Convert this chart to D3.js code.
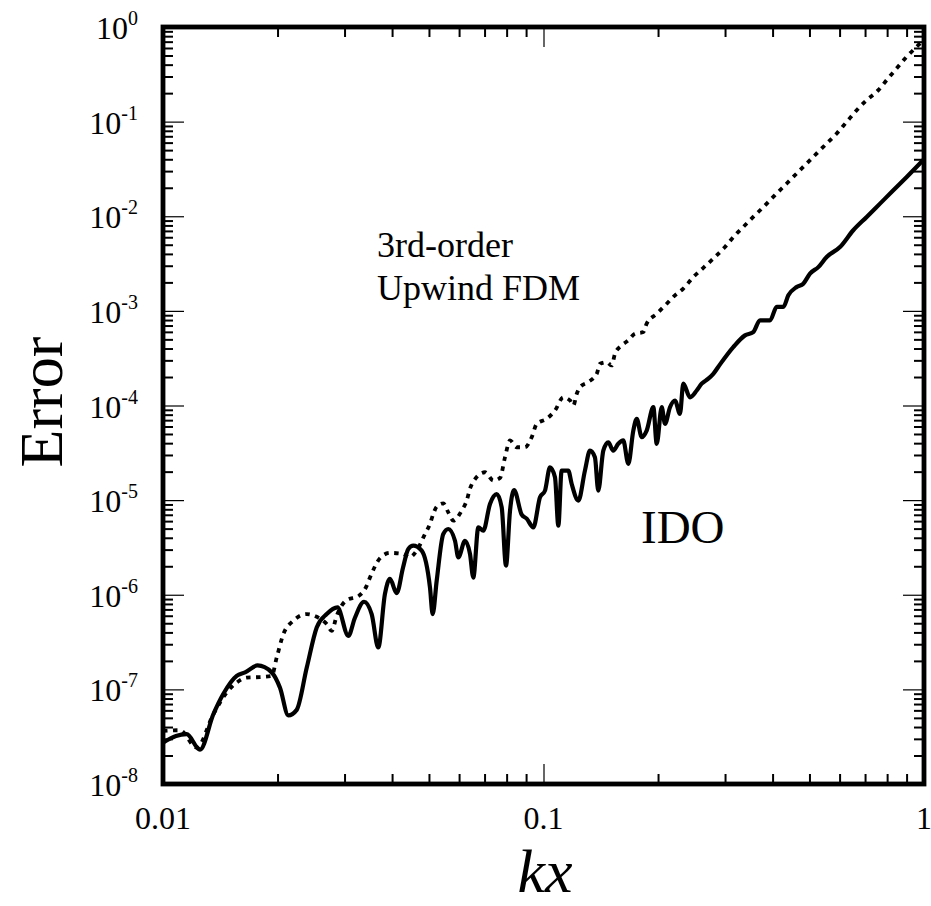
<!DOCTYPE html>
<html>
<head>
<meta charset="utf-8">
<script src="https://cdn.jsdelivr.net/npm/d3@7"></script>
<style>
  body { margin: 0; background: #fff; }
</style>
</head>
<body>
<svg id="chart" width="931" height="906"></svg>
<script>
const svgW = 931, svgH = 906;
const plotL = 163, plotR = 924, plotT = 27, plotB = 784;
const serif = '"Liberation Serif", "DejaVu Serif", "Times New Roman", serif';

// IDO scheme (solid line)
const idoKx = [0.0100, 0.01082, 0.01154, 0.01251, 0.01356, 0.01440, 0.01562, 0.01643, 0.01772, 0.01931,
  0.02030, 0.02135, 0.02246, 0.02387, 0.02535, 0.02693, 0.02874, 0.03069, 0.03195, 0.03375,
  0.03535, 0.03679, 0.03831, 0.03949, 0.04113, 0.04273, 0.04413, 0.04548, 0.04785, 0.05031,
  0.05114, 0.05240, 0.05453, 0.05620, 0.05853, 0.05972, 0.06219, 0.06409, 0.06539, 0.06741,
  0.06947, 0.07234, 0.07534, 0.07765, 0.07969, 0.08166, 0.08366, 0.08764, 0.09034, 0.09402,
  0.09790, 0.1009, 0.1040, 0.1072, 0.1094, 0.1116, 0.1162, 0.1186, 0.1235, 0.1285,
  0.1325, 0.1365, 0.1393, 0.1436, 0.1480, 0.1525, 0.1572, 0.1620, 0.1671, 0.1722,
  0.1758, 0.1812, 0.1867, 0.1944, 0.1984, 0.2045, 0.2086, 0.2150, 0.2216, 0.2284,
  0.2330, 0.2427, 0.2527, 0.2604, 0.2711, 0.2794, 0.2910, 0.3153, 0.3385, 0.3558,
  0.3707, 0.3938, 0.4101, 0.4268, 0.4400, 0.4628, 0.4817, 0.5016, 0.5275, 0.5549,
  0.6015, 0.6518, 0.7070, 0.7663, 0.8306, 0.9007, 1.0];
const idoErr = [2.74e-8, 3.22e-8, 3.36e-8, 2.30e-8, 5.46e-8, 8.95e-8, 1.39e-7, 1.51e-7, 1.79e-7, 1.51e-7,
  1.04e-7, 5.31e-8, 6.07e-8, 1.70e-7, 4.51e-7, 6.25e-7, 7.35e-7, 3.68e-7, 5.71e-7, 8.43e-7,
  6.25e-7, 2.77e-7, 1.02e-6, 1.47e-6, 1.04e-6, 1.93e-6, 3.05e-6, 3.30e-6, 2.92e-6, 1.19e-6,
  6.25e-7, 1.41e-6, 4.39e-6, 4.95e-6, 3.72e-6, 2.48e-6, 3.72e-6, 2.70e-6, 1.52e-6, 5.15e-6,
  4.75e-6, 9.12e-6, 1.16e-5, 8.39e-6, 2.03e-6, 7.74e-6, 1.28e-5, 7.03e-6, 6.37e-6, 5.15e-6,
  1.07e-5, 1.26e-5, 2.22e-5, 1.74e-5, 5.37e-6, 2.05e-5, 2.05e-5, 1.48e-5, 9.89e-6, 2.05e-5,
  3.34e-5, 2.84e-5, 1.26e-5, 3.34e-5, 4.09e-5, 3.34e-5, 3.94e-5, 4.27e-5, 2.42e-5, 5.43e-5,
  7.23e-5, 4.62e-5, 5.43e-5, 9.59e-5, 3.94e-5, 9.59e-5, 6.40e-5, 9.59e-5, 1.13e-4, 8.17e-5,
  1.70e-4, 1.22e-4, 1.44e-4, 1.70e-4, 1.92e-4, 2.16e-4, 2.72e-4, 4.14e-4, 5.51e-4, 5.97e-4,
  7.93e-4, 7.93e-4, 1.10e-3, 1.10e-3, 1.46e-3, 1.79e-3, 1.94e-3, 2.48e-3, 2.90e-3, 3.71e-3,
  4.73e-3, 7.11e-3, 9.84e-3, 1.36e-2, 1.88e-2, 2.60e-2, 4.0e-2];

// 3rd-order upwind FDM (dashed line)
const fdmKx = [0.0100, 0.01108, 0.01226, 0.01356, 0.01470, 0.01562, 0.01660, 0.01798, 0.01931, 0.01990,
  0.02072, 0.02200, 0.02387, 0.02535, 0.02693, 0.02776, 0.02861, 0.03040, 0.03260, 0.03429,
  0.03499, 0.03717, 0.03949, 0.04281, 0.04431, 0.04642, 0.04882, 0.05031, 0.05132, 0.05240,
  0.05453, 0.05620, 0.05794, 0.06095, 0.06283, 0.06409, 0.06607, 0.07019, 0.07381, 0.07686,
  0.07922, 0.08166, 0.08503, 0.08941, 0.09311, 0.09596, 0.1019, 0.1072, 0.1127, 0.1174,
  0.1198, 0.1223, 0.1247, 0.1311, 0.1380, 0.1408, 0.1466, 0.1511, 0.1541, 0.1605,
  0.1671, 0.1740, 0.1830, 0.1867, 0.1984, 0.2108, 0.2216, 0.2330, 0.2476, 0.2630,
  0.2823, 0.2999, 0.3186, 0.3350, 0.3558, 0.3782, 0.4058, 0.4357, 0.4628, 0.4917,
  0.5224, 0.5549, 0.5897, 0.6264, 0.6653, 0.7070, 0.7585, 0.7980, 0.8479, 0.9007,
  0.9568, 1.0];
const fdmErr = [3.64e-8, 3.70e-8, 2.42e-8, 5.46e-8, 9.25e-8, 1.18e-7, 1.33e-7, 1.35e-7, 1.39e-7, 2.17e-7,
  3.84e-7, 5.31e-7, 6.25e-7, 5.85e-7, 4.90e-7, 4.16e-7, 6.00e-7, 8.79e-7, 9.64e-7, 1.24e-6,
  1.52e-6, 2.43e-6, 2.77e-6, 2.70e-6, 2.48e-6, 2.92e-6, 4.39e-6, 5.60e-6, 7.14e-6, 8.53e-6,
  9.25e-6, 7.43e-6, 6.07e-6, 7.74e-6, 9.89e-6, 1.32e-5, 1.67e-5, 1.97e-5, 1.61e-5, 1.71e-5,
  2.84e-5, 4.27e-5, 3.62e-5, 3.62e-5, 4.62e-5, 6.40e-5, 7.23e-5, 8.85e-5, 1.22e-4, 1.13e-4,
  1.00e-4, 1.33e-4, 1.56e-4, 1.77e-4, 2.16e-4, 2.76e-4, 2.87e-4, 2.65e-4, 3.52e-4, 4.32e-4,
  4.88e-4, 5.74e-4, 5.97e-4, 7.33e-4, 9.33e-4, 1.19e-3, 1.46e-3, 1.72e-3, 2.28e-3, 2.85e-3,
  3.71e-3, 4.73e-3, 6.30e-3, 7.71e-3, 9.84e-3, 1.25e-2, 1.67e-2, 2.22e-2, 2.83e-2, 3.61e-2,
  4.61e-2, 5.87e-2, 7.50e-2, 9.95e-2, 1.32e-1, 1.69e-1, 2.15e-1, 2.75e-1, 3.66e-1, 4.85e-1,
  6.19e-1, 0.73];

const xTicks = [0.01, 0.1, 1];
const xTickLabels = ["0.01", "0.1", "1"];
const yExps = [0, -1, -2, -3, -4, -5, -6, -7, -8];

const svg = d3.select("#chart");

const x = d3.scaleLog().domain([0.01, 1]).range([plotL, plotR]);
const y = d3.scaleLog().domain([1e-8, 1]).range([plotB, plotT]);

const ido = idoKx.map((k, i) => ({kx: k, err: idoErr[i]}));
const fdm = fdmKx.map((k, i) => ({kx: k, err: fdmErr[i]}));

// minor ticks, 2..9 in every decade
const xMinor = [], yMinor = [];
[0.01, 0.1].forEach(d => { for (let m = 2; m < 10; m++) xMinor.push(m * d) });
for (let e = -8; e < 0; e++) { for (let m = 2; m < 10; m++) yMinor.push(m * Math.pow(10, e)) }
const yMajor = yExps.map(e => Math.pow(10, e));

function tickAxis(axis, transform, values, size, width) {
    const g = svg.append("g")
        .attr("transform", transform)
        .call(axis.tickValues(values).tickSize(size).tickFormat(""));
    g.select(".domain").remove();
    g.selectAll(".tick line").attr("stroke", "#000").attr("stroke-width", width);
    return g;
}

// ticks point inward on all four sides
tickAxis(d3.axisBottom(x), `translate(0,${plotB})`, xMinor, -10, 2);
tickAxis(d3.axisTop(x), `translate(0,${plotT})`, xMinor, -10, 2);
tickAxis(d3.axisBottom(x), `translate(0,${plotB})`, [0.1], -20, 1.2);
tickAxis(d3.axisTop(x), `translate(0,${plotT})`, [0.1], -20, 1.2);
tickAxis(d3.axisLeft(y), `translate(${plotL},0)`, yMinor, -10, 2);
tickAxis(d3.axisRight(y), `translate(${plotR},0)`, yMinor, -10, 2);
tickAxis(d3.axisLeft(y), `translate(${plotL},0)`, yMajor, -21, 1.2);
tickAxis(d3.axisRight(y), `translate(${plotR},0)`, yMajor, -21, 1.2);

// curves
const line = d3.line()
    .x(d => x(d.kx))
    .y(d => y(d.err))
    .curve(d3.curveMonotoneX);

svg.append("path")
    .datum(fdm)
    .attr("d", line)
    .attr("fill", "none")
    .attr("stroke", "#000")
    .attr("stroke-width", 3.8)
    .attr("stroke-dasharray", "4.5 5.5");

svg.append("path")
    .datum(ido)
    .attr("d", line)
    .attr("fill", "none")
    .attr("stroke", "#000")
    .attr("stroke-width", 4.2)
    .attr("stroke-linejoin", "round");

// frame
svg.append("rect")
    .attr("x", plotL).attr("y", plotT)
    .attr("width", plotR - plotL).attr("height", plotB - plotT)
    .attr("fill", "none")
    .attr("stroke", "#000")
    .attr("stroke-width", 4.8);

// all text in a Times-like face
const label = (px) => svg.append("text")
    .style("font-family", serif)
    .style("font-size", px + "px")
    .style("fill", "#000");

// y tick labels 10^n
yExps.forEach(e => {
    const t = label(32)
        .attr("x", 138)
        .attr("y", y(Math.pow(10, e)) + 12)
        .attr("text-anchor", "end");
    t.append("tspan").text("10");
    t.append("tspan")
        .attr("dy", -14)
        .style("font-size", "20px")
        .text(e === 0 ? "0" : "-" + Math.abs(e));
});

// x tick labels
xTicks.forEach((v, i) => {
    label(32)
        .attr("x", x(v))
        .attr("y", 829)
        .attr("text-anchor", "middle")
        .text(xTickLabels[i]);
});

// axis titles
label(62)
    .attr("transform", "translate(62,402) rotate(-90)")
    .attr("text-anchor", "middle")
    .text("Error");

label(62)
    .attr("x", 545).attr("y", 892)
    .attr("text-anchor", "middle")
    .style("font-style", "italic")
    .text("kx");

// annotations
label(36).attr("x", 377).attr("y", 257).text("3rd-order");
label(36).attr("x", 377).attr("y", 300).text("Upwind FDM");
label(47).attr("x", 641).attr("y", 543).text("IDO");
</script>
</body>
</html>
